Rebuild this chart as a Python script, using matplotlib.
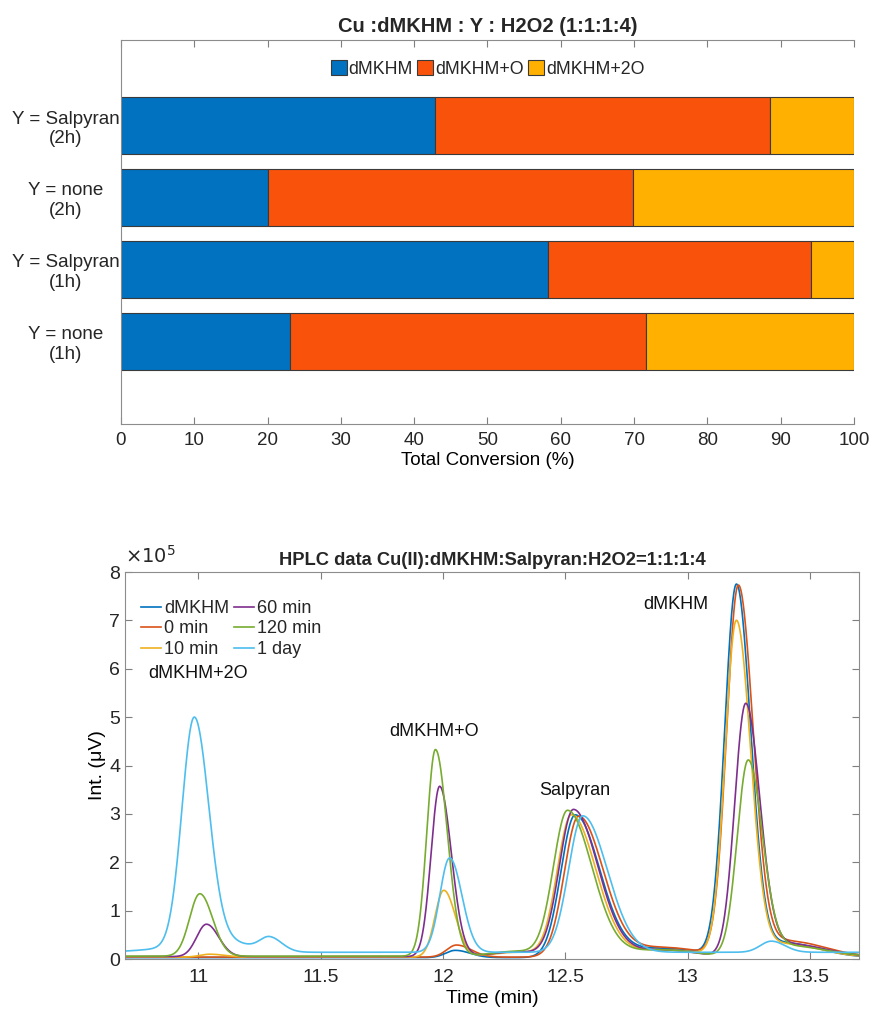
import numpy as np
import matplotlib
matplotlib.use('Agg')
import matplotlib.pyplot as plt
from matplotlib.ticker import FuncFormatter

# ---- top panel: total conversion (%) per condition ----
conditions = ['Y = none\n(1h)', 'Y = Salpyran\n(1h)', 'Y = none\n(2h)', 'Y = Salpyran\n(2h)']
conv_dmkhm = [23.0, 58.2, 20.0, 42.8]
conv_dmkhm_o = [48.6, 36.0, 49.8, 45.7]
conv_dmkhm_2o = [28.4, 5.8, 30.2, 11.5]
products = ['dMKHM', 'dMKHM+O', 'dMKHM+2O']

# ---- bottom panel: HPLC traces, peaks ----
# each peak: (retention time min, height x1e5, left width, right width)
series = ['dMKHM', '0 min', '10 min', '60 min', '120 min', '1 day']
baseline = [0.03, 0.04, 0.04, 0.05, 0.06, 0.14]
peaks_dmkhm = [(12.05, 0.15, 0.04, 0.06), (12.540, 2.94, 0.058, 0.10), (12.90, 0.19, 0.15, 0.15),
               (13.199, 7.67, 0.048, 0.058), (13.40, 0.30, 0.09, 0.14)]
peaks_0min = [(12.055, 0.25, 0.04, 0.06), (12.554, 2.90, 0.058, 0.10), (12.90, 0.20, 0.15, 0.15),
              (13.207, 7.64, 0.048, 0.06), (13.41, 0.33, 0.09, 0.15)]
peaks_10min = [(11.047, 0.06, 0.04, 0.06), (12.003, 1.38, 0.036, 0.048), (12.30, 0.10, 0.10, 0.10),
               (12.525, 2.93, 0.058, 0.10), (12.90, 0.15, 0.15, 0.15),
               (13.199, 6.92, 0.046, 0.058), (13.40, 0.27, 0.09, 0.14)]
peaks_60min = [(11.033, 0.67, 0.04, 0.05), (11.986, 3.52, 0.035, 0.048), (12.30, 0.10, 0.10, 0.10),
               (12.533, 3.03, 0.058, 0.10), (12.90, 0.14, 0.15, 0.12),
               (13.237, 5.20, 0.045, 0.058), (13.42, 0.26, 0.09, 0.14)]
peaks_120min = [(11.006, 1.29, 0.042, 0.052), (11.969, 4.27, 0.035, 0.048), (12.30, 0.10, 0.10, 0.10),
                (12.509, 3.00, 0.058, 0.10), (12.90, 0.13, 0.15, 0.12),
                (13.247, 4.02, 0.045, 0.058), (13.42, 0.21, 0.09, 0.14)]
peaks_1day = [(10.95, 0.10, 0.15, 0.10), (10.983, 4.72, 0.05, 0.059), (11.12, 0.20, 0.08, 0.10),
              (11.292, 0.28, 0.04, 0.05), (12.027, 1.95, 0.04, 0.05), (12.571, 2.82, 0.058, 0.10),
              (13.342, 0.23, 0.045, 0.055)]
all_peaks = [peaks_dmkhm, peaks_0min, peaks_10min, peaks_60min, peaks_120min, peaks_1day]
peak_labels = ['dMKHM+2O', 'dMKHM+O', 'Salpyran', 'dMKHM']
label_pos = [(11.0, 5.9), (11.965, 4.71), (12.537, 3.49), (12.953, 7.33)]

bar_colors = ['#0072C0', '#F9530B', '#FFB000']
line_colors = ['#0072BD', '#D95319', '#EDB120', '#7E2F8E', '#77AC30', '#4DBEEE']

plt.rcParams['font.family'] = ['Liberation Sans', 'DejaVu Sans']
plt.rcParams['text.color'] = '#262626'
plt.rcParams['xtick.color'] = '#7f7f7f'
plt.rcParams['ytick.color'] = '#7f7f7f'
plt.rcParams['xtick.labelcolor'] = '#262626'
plt.rcParams['ytick.labelcolor'] = '#262626'

fig = plt.figure(figsize=(8.71, 10.09), dpi=100)

# ---------- top: stacked bars ----------
ax1 = fig.add_axes([0.1389, 0.5798, 0.8416, 0.3806])
ypos = np.arange(1, len(conditions) + 1)
left = np.zeros(len(conditions))
for vals, col, name in zip([conv_dmkhm, conv_dmkhm_o, conv_dmkhm_2o], bar_colors, products):
    ax1.barh(ypos, vals, left=left, height=0.79, color=col, edgecolor='#3a3a3a',
             linewidth=0.8, label=name)
    left += np.array(vals)
ax1.set_xlim(0, 100)
ax1.set_ylim(-0.15, 5.19)
ax1.set_xticks(np.arange(0, 101, 10))
ax1.set_yticks(ypos)
ax1.set_yticklabels(conditions, fontsize=13.5, ha='center')
ax1.tick_params(axis='y', length=0, pad=40)
ax1.tick_params(axis='x', direction='in', top=True, length=5, labelsize=13.5, pad=6)
ax1.spines['right'].set_visible(False)
for s in ['left', 'bottom', 'top']:
    ax1.spines[s].set_color('#8c8c8c')
    ax1.spines[s].set_linewidth(0.8)
ax1.set_xlabel('Total Conversion (%)', fontsize=13.5, labelpad=2)
ax1.set_title('Cu :dMKHM : Y : H2O2 (1:1:1:4)', fontsize=14.5, fontweight='bold', pad=6)
ax1.legend(loc='center', bbox_to_anchor=(0.5, 0.924), ncol=3, frameon=False,
           handlelength=0.9, handleheight=0.9, handletextpad=0.1, columnspacing=0.25,
           fontsize=12.8)

# ---------- bottom: HPLC traces ----------
ax2 = fig.add_axes([0.1435, 0.0495, 0.8427, 0.3836])
t = np.linspace(10.7, 13.7, 2000)
for name, col, base, peaks in zip(series, line_colors, baseline, all_peaks):
    y = np.full_like(t, base)
    for t0, h, wl, wr in peaks:
        w = np.where(t < t0, wl, wr)
        y += h * np.exp(-0.5 * ((t - t0) / w) ** 2)
    ax2.plot(t, y * 1e5, color=col, lw=1.2, label=name)

for txt, (x, yv) in zip(peak_labels, label_pos):
    ax2.text(x, yv * 1e5, txt, fontsize=13, ha='center', va='center', color='#111111')

ax2.set_xlim(10.7, 13.7)
ax2.set_ylim(0, 8e5)
ax2.set_xticks([11, 11.5, 12, 12.5, 13, 13.5])
ax2.set_xticklabels(['11', '11.5', '12', '12.5', '13', '13.5'])
ax2.yaxis.set_major_formatter(FuncFormatter(lambda v, p: '%g' % (v / 1e5)))
ax2.annotate(r'$\times10^5$', xy=(0, 1), xycoords='axes fraction', xytext=(0, 4),
             textcoords='offset points', fontsize=14, ha='left', va='bottom')
ax2.tick_params(direction='in', top=True, right=True, length=5, labelsize=14)
ax2.tick_params(axis='x', pad=7)
for s in ax2.spines.values():
    s.set_color('#8c8c8c')
    s.set_linewidth(0.8)
ax2.set_xlabel('Time (min)', fontsize=14, labelpad=3)
ax2.set_ylabel('Int. (\u03bcV)', fontsize=14, labelpad=2)
ax2.set_title('HPLC data Cu(II):dMKHM:Salpyran:H2O2=1:1:1:4', fontsize=13.2,
              fontweight='bold', pad=5)
ax2.legend(loc='upper left', bbox_to_anchor=(0.0, 0.97), ncol=2, frameon=False,
           fontsize=13, handlelength=1.1, handletextpad=0.15, columnspacing=0.3,
           labelspacing=0.2, borderaxespad=0.5)

fig.savefig('out.png', dpi=100)
